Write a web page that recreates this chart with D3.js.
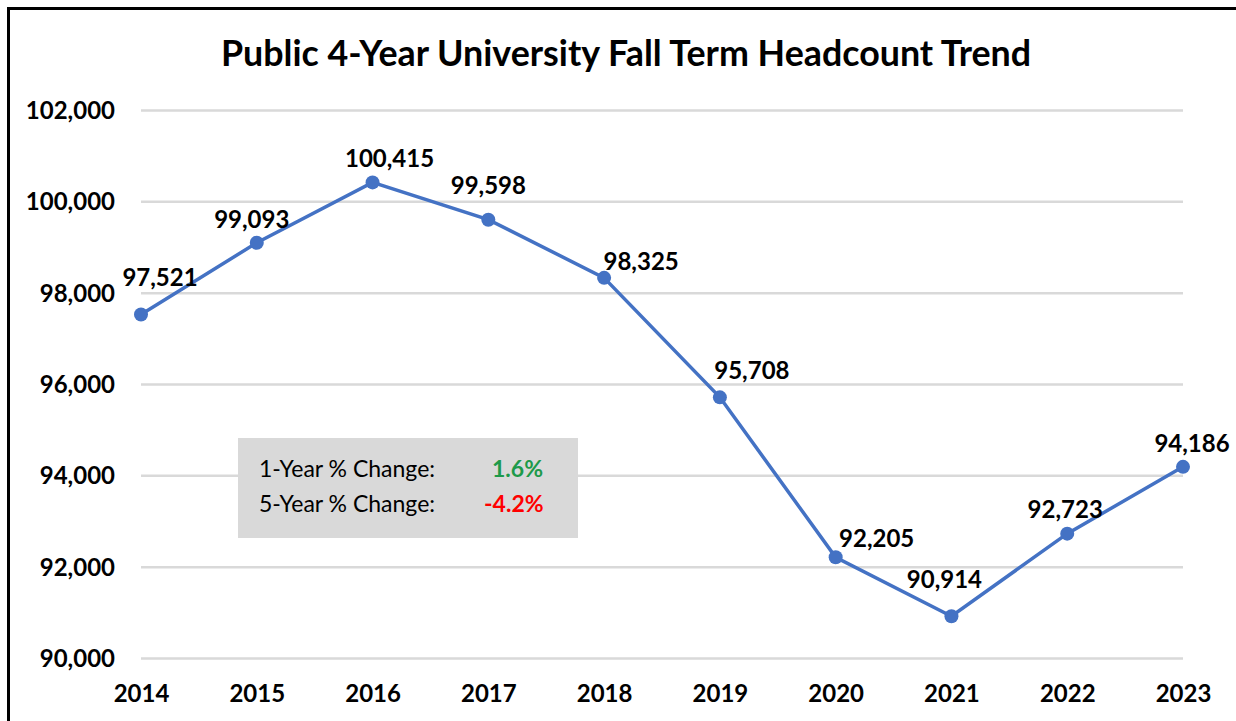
<!DOCTYPE html>
<meta charset="utf-8">
<script src="https://d3js.org/d3.v7.min.js"></script>
<style>
	body {
		margin: 0;
		background: #ffffff;
	}
	svg text {
		font-family: Lato, "Open Sans", sans-serif;
	}
	.axis text {
		font-size: 24px;
		font-weight: bold;
		fill: #000000;
	}
	.axis .domain {
		display: none;
	}
	.axis--y line {
		stroke: #d9d9d9;
		stroke-width: 2.5px;
	}
	.lbl {
		font-size: 24px;
		font-weight: bold;
		fill: #000000;
	}
</style>
<svg width="1236" height="721"></svg>
<script>
	// 数据
	var years = ['2014', '2015', '2016', '2017', '2018', '2019', '2020', '2021', '2022', '2023']
	var headcount = [97521, 99093, 100415, 99598, 98325, 95708, 92205, 90914, 92723, 94186]
	var yTicks = [90000, 92000, 94000, 96000, 98000, 100000, 102000]
	// 标签微调 (dx, dy)
	var labelDx = [19, -5, 17, 0, 37, 32, 41, -7, -2, 9]
	var labelDy = [-29, -15, -15, -26, -8, -18, -10, -28, -16, -15]
	var title = 'Public 4-Year University Fall Term Headcount Trend'
	var oneYear = '1.6%', fiveYear = '-4.2%'

	var data = years.map(function (d, i) {
		return { year: d, value: headcount[i] }
	})

	var svg = d3.select('svg')

	var x = d3.scalePoint().domain(years).range([141, 1183]),
		y = d3.scaleLinear().domain([90000, 102000]).range([658, 110])

	// 边框 (只看得到左边和上边)
	svg.append('path')
		.attr('d', 'M8.5,721 L8.5,8.5 L1236,8.5')
		.attr('fill', 'none')
		.attr('stroke', '#000')
		.attr('stroke-width', 3)

	svg.append('text')
		.attr('x', 626)
		.attr('y', 66)
		.attr('text-anchor', 'middle')
		.style('font-size', '35.8px')
		.style('font-weight', 'bold')
		.text(title)

	var yAxis = d3.axisLeft(y)
		.tickValues(yTicks)
		.tickFormat(d3.format(','))
		.tickSizeInner(-(1183 - 141))
		.tickSizeOuter(0)
		.tickPadding(26)

	svg.append('g')
		.attr('class', 'axis axis--y')
		.attr('transform', 'translate(141,0)')
		.call(yAxis)
		.selectAll('text')
		.attr('dy', '0.36em')

	var xAxis = d3.axisBottom(x).tickSize(0).tickPadding(27)
	svg.append('g')
		.attr('class', 'axis axis--x')
		.attr('transform', 'translate(0,658)')
		.call(xAxis)

	// 文本框
	var box = svg.append('g')
	box.append('rect')
		.attr('x', 238).attr('y', 438)
		.attr('width', 340).attr('height', 100)
		.attr('fill', '#d9d9d9')
	var t1 = box.append('text').attr('x', 259).attr('y', 477).style('font-size', '23px')
	t1.append('tspan').text('1-Year % Change:')
	t1.append('tspan').attr('x', 492).attr('fill', '#1e9a4a').style('font-weight', 'bold').text(oneYear)
	var t2 = box.append('text').attr('x', 259).attr('y', 512).style('font-size', '23px')
	t2.append('tspan').text('5-Year % Change:')
	t2.append('tspan').attr('x', 484).attr('fill', '#ff0000').style('font-weight', 'bold').text(fiveYear)

	// 折线
	var line = d3.line()
		.x(function (d) { return x(d.year) })
		.y(function (d) { return y(d.value) })

	svg.append('path')
		.attr('d', line(data))
		.attr('fill', 'none')
		.attr('stroke', '#4472c4')
		.attr('stroke-width', 3.5)

	svg.selectAll('.dot')
		.data(data)
		.enter().append('circle')
		.attr('class', 'dot')
		.attr('cx', function (d) { return x(d.year) })
		.attr('cy', function (d) { return y(d.value) })
		.attr('r', 7)
		.attr('fill', '#4472c4')

	svg.selectAll('.lbl')
		.data(data)
		.enter().append('text')
		.attr('class', 'lbl')
		.attr('text-anchor', 'middle')
		.attr('x', function (d, i) { return x(d.year) + labelDx[i] })
		.attr('y', function (d, i) { return y(d.value) + labelDy[i] })
		.text(function (d) { return d3.format(',')(d.value) })
</script>
